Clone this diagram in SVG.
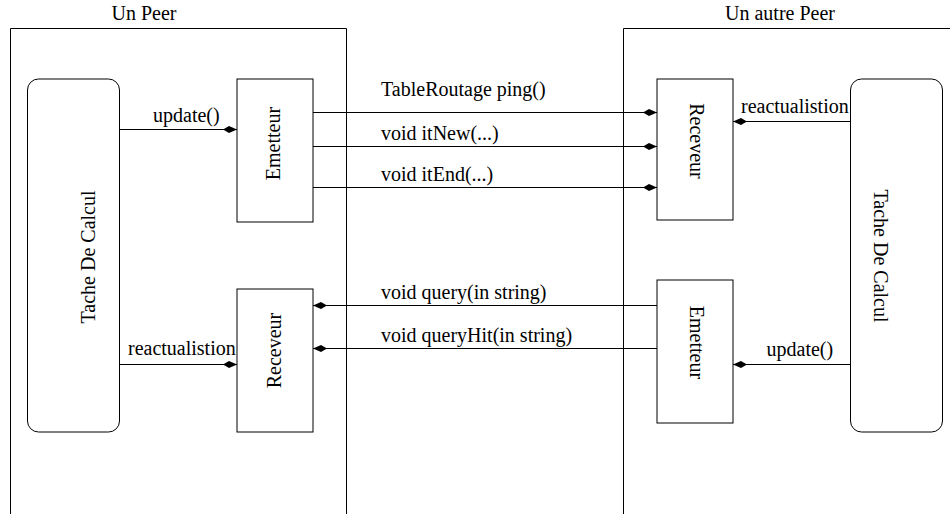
<svg xmlns="http://www.w3.org/2000/svg" width="950" height="514" viewBox="0 0 950 514">
<style>
text{font-family:"Liberation Serif","Times New Roman",serif;font-size:20px;fill:#000}
.peer{fill:none;stroke:#000;stroke-width:1}
.node{fill:#fff;stroke:#000;stroke-width:1}
.conn{fill:none;stroke:#000;stroke-width:1}
.mid{text-anchor:middle}
</style>
<defs>
<marker id="ah" viewBox="-15 -5 16 10" refX="0" refY="0" markerWidth="16" markerHeight="10" markerUnits="userSpaceOnUse" orient="auto">
<polygon points="0,0 -8,-3.5 -14,0 -8,3.5" fill="#000"/>
</marker>
</defs>
<g id="peer-left">
<path class="peer" d="M10.5,514 V28.5 H346.5 V514"/>
<text x="144" y="20" class="mid">Un Peer</text>
</g>
<g id="peer-right">
<path class="peer" d="M623.5,514 V28.5 H950"/>
<text x="780" y="20" class="mid">Un autre Peer</text>
</g>
<g id="tache-left">
<rect class="node" x="27.5" y="79" width="92" height="353" rx="11" ry="11"/>
<text class="mid" transform="translate(95,257) rotate(-90)">Tache De Calcul</text>
</g>
<g id="emetteur-left">
<rect class="node" x="237" y="79" width="76" height="143"/>
<text class="mid" transform="translate(280,143.5) rotate(-90)">Emetteur</text>
</g>
<g id="receveur-left">
<rect class="node" x="237" y="289" width="76" height="143"/>
<text class="mid" transform="translate(281,350.5) rotate(-90)">Receveur</text>
</g>
<g id="receveur-right">
<rect class="node" x="657" y="79" width="76" height="141"/>
<text class="mid" transform="translate(690,141) rotate(90)">Receveur</text>
</g>
<g id="emetteur-right">
<rect class="node" x="657" y="280" width="76" height="143"/>
<text class="mid" transform="translate(690,342.5) rotate(90)">Emetteur</text>
</g>
<g id="tache-right">
<rect class="node" x="850.5" y="79" width="92" height="353" rx="11" ry="11"/>
<text class="mid" transform="translate(874,256) rotate(90)">Tache De Calcul</text>
</g>
<g id="connectors">
<line class="conn" x1="119.5" y1="129.5" x2="237" y2="129.5" marker-end="url(#ah)"/>
<line class="conn" x1="119.5" y1="364.5" x2="237" y2="364.5" marker-end="url(#ah)"/>
<line class="conn" x1="313" y1="112.5" x2="657" y2="112.5" marker-end="url(#ah)"/>
<line class="conn" x1="313" y1="146.5" x2="657" y2="146.5" marker-end="url(#ah)"/>
<line class="conn" x1="313" y1="187.5" x2="657" y2="187.5" marker-end="url(#ah)"/>
<line class="conn" x1="657" y1="305.5" x2="313" y2="305.5" marker-end="url(#ah)"/>
<line class="conn" x1="657" y1="348.5" x2="313" y2="348.5" marker-end="url(#ah)"/>
<line class="conn" x1="850.5" y1="121.5" x2="733" y2="121.5" marker-end="url(#ah)"/>
<line class="conn" x1="850.5" y1="364.5" x2="733" y2="364.5" marker-end="url(#ah)"/>
<text x="153" y="121.5">update()</text>
<text x="128" y="355">reactualistion</text>
<text x="381" y="96">TableRoutage ping()</text>
<text x="381" y="139.5">void itNew(...)</text>
<text x="381" y="180.5">void itEnd(...)</text>
<text x="381" y="298.5">void query(in string)</text>
<text x="381" y="341.5">void queryHit(in string)</text>
<text x="741" y="113">reactualistion</text>
<text x="766.5" y="356">update()</text>
</g>
</svg>
